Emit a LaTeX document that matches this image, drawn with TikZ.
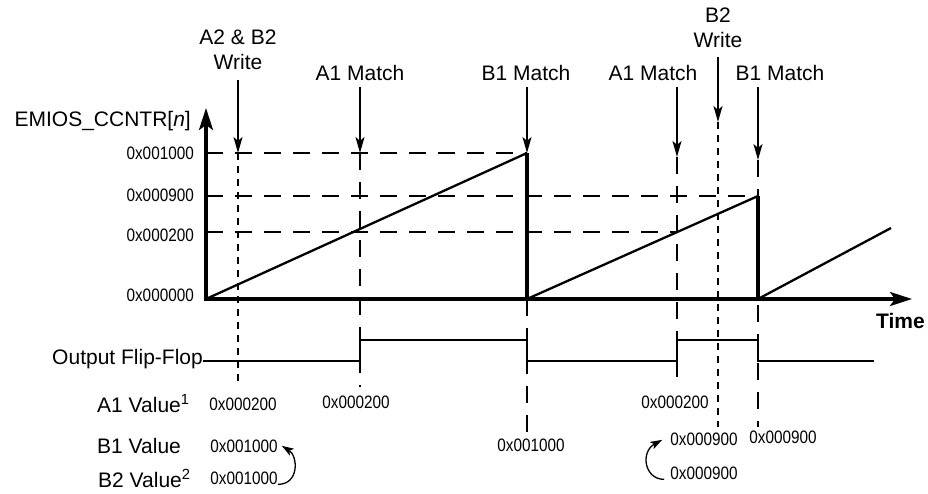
\documentclass[tikz,border=0pt]{standalone}
\usepackage{fontspec}
\setmainfont{Liberation Sans}
\newfontfamily\hexfont[FakeStretch=0.85]{Liberation Sans}
\usetikzlibrary{positioning,arrows.meta,calc}

\begin{document}
\begin{tikzpicture}[
    x=1pt,y=-1pt,
    font=\fontsize{21}{25}\selectfont,
    lbl/.style ={inner sep=0pt,align=center},
    hex/.style ={inner sep=0pt,font=\hexfont\fontsize{18}{20}\selectfont},
    axis/.style={line width=3.3pt,-{Stealth[length=22pt,width=14pt,inset=5pt]}},
    marker/.style={line width=2pt,-{Stealth[length=16pt,width=9pt,inset=4pt]}},
    curly/.style={line width=1.3pt,-{Stealth[length=12pt,width=8pt,inset=3pt]}},
    ramp/.style={line width=2.3pt},
    drop/.style={line width=3.2pt},
    ff/.style  ={line width=2.2pt},
    guide/.style={line width=2pt,dash pattern=on 17pt off 12pt},
    dotguide/.style={line width=2pt,dash pattern=on 7pt off 6pt},
    ]
    \useasboundingbox (0,0) rectangle (928,493);

    % axes and counter levels
    \coordinate (o)     at (206,299);
    \coordinate (ytop)  at (206,108);
    \coordinate (tend)  at (912,299);
    \coordinate (l1000) at (206,153);
    \coordinate (l900)  at (206,196);
    \coordinate (l200)  at (206,232);

    % event points on the counter
    \coordinate (w1tip) at (238,153);
    \coordinate (m1tip) at (360,153);
    \coordinate (b1top) at (527,153);
    \coordinate (b1bot) at (527,299);
    \coordinate (m2tip) at (677,157);
    \coordinate (m2lvl) at (677,232);
    \coordinate (w2tip) at (718,122);
    \coordinate (b2tip) at (758,160);
    \coordinate (b2top) at (758,196);
    \coordinate (b2bot) at (758,299);
    \coordinate (rend)  at (891,228);

    % dashed levels
    \draw[guide] (l1000) -- (b1top);
    \draw[guide] (l900)  -- (b2top);
    \draw[guide] (l200)  -- (m2lvl);

    % vertical guides
    \draw[dotguide] (w1tip) -- (238,383);
    \draw[guide]    (m1tip) -- (360,387);
    \draw[guide]    (b1bot) -- (527,435);
    \draw[guide]    (m2tip) -- (677,387);
    \draw[dotguide] (w2tip) -- (718,427);
    \draw[guide]    (b2tip) -- (758,427);

    % counter ramps
    \draw[ramp] (o) -- (b1top);
    \draw[drop] (b1top) -- (b1bot);
    \draw[ramp] (b1bot) -- (b2top);
    \draw[drop] (b2top) -- (b2bot);
    \draw[ramp] (b2bot) -- (rend);

    \draw[axis] (o) -- (ytop);
    \draw[axis] ([xshift=-1.6pt]o) -- (tend);

    \node[anchor=east,inner sep=0pt] (ylab) at (191,121) {EMIOS\_CCNTR[\textit{n}]};
    \node[hex,anchor=east] (y1000) at (194,153) {0x001000};
    \node[hex,anchor=east] (y900)  at (194,195) {0x000900};
    \node[hex,anchor=east] (y200)  at (194,235) {0x000200};
    \node[hex,anchor=east] (y0)    at (194,295) {0x000000};
    \node[anchor=base east,inner sep=0pt,font=\fontsize{21}{25}\selectfont\bfseries] (time) at (925,328) {Time};

    % event markers
    \node[lbl,anchor=south] (w1) at (238,70) {A2 \& B2\\Write};
    \node[lbl,anchor=base]  (m1) at (360,80) {A1 Match};
    \node[lbl,anchor=base]  (b1) at (526,80) {B1 Match};
    \node[lbl,anchor=base]  (m2) at (653,80) {A1 Match};
    \node[lbl,anchor=south] (w2) at (718,48) {B2\\Write};
    \node[lbl,anchor=base]  (b2) at (780,80) {B1 Match};

    \draw[marker] ([yshift=-10pt]w1.south) -- (w1tip);
    \draw[marker] ([yshift=-7pt]m1.south)  -- (m1tip);
    \draw[marker] ($(b1top |- b1.south)+(0,7)$) -- (b1top);
    \draw[marker] ($(m2tip |- m2.south)+(0,7)$) -- (m2tip);
    \draw[marker] ([yshift=-9pt]w2.south)  -- (w2tip);
    \draw[marker] ($(b2tip |- b2.south)+(0,7)$) -- (b2tip);

    % output flip-flop
    \node[anchor=base east,inner sep=0pt] (ffl) at (203,364) {Output Flip-Flop};
    \draw[ff] (ffl.east |- 0,361) -- (360,361) -- (360,340) -- (527,340) -- (527,361)
      -- (677,361) -- (677,340) -- (758,340) -- (758,361) -- (874,361);

    % register values
    \node[anchor=base west,inner sep=0pt] (a1lab) at (97,412) {A1 Value\textsuperscript{1}};
    \node[anchor=base west,inner sep=0pt] (b1lab) at (97,453) {B1 Value};
    \node[anchor=base west,inner sep=0pt] (b2lab) at (98,487) {B2 Value\textsuperscript{2}};

    \node[hex,anchor=base] (a1v1) at (243,410) {0x000200};
    \node[hex,anchor=base] (a1v2) at (356,408) {0x000200};
    \node[hex,anchor=base] (a1v3) at (675,408) {0x000200};
    \node[hex,anchor=base] (b1v1) at (244,452) {0x001000};
    \node[hex,anchor=base] (b1v2) at (531,451) {0x001000};
    \node[hex,anchor=base] (b1v3) at (704,445) {0x000900};
    \node[hex,anchor=base] (b1v4) at (783,443) {0x000900};
    \node[hex,anchor=base] (b2v1) at (244,484) {0x001000};
    \node[hex,anchor=base] (b2v2) at (704,479) {0x000900};

    \draw[curly] (b2v1.south east) .. controls +(22,0) and +(16,10) .. ([xshift=4pt]b1v1.east);
    \draw[curly] ([xshift=-6pt]b2v2.south west) .. controls +(-20,0) and +(-22,12) .. ([xshift=-8pt,yshift=-1pt]b1v3.west);
  \end{tikzpicture}
\end{document}
